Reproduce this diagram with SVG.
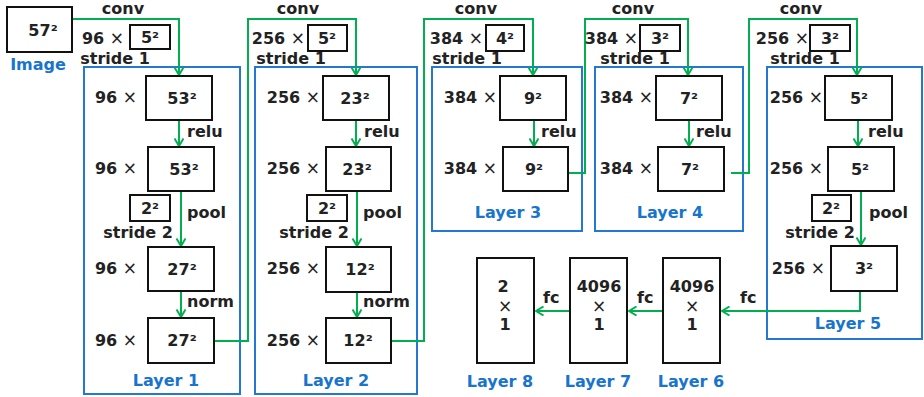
<svg xmlns="http://www.w3.org/2000/svg" width="924" height="397" viewBox="0 0 924 397">
<defs>
<marker id="ah" viewBox="0 0 10 10" refX="9" refY="5" markerWidth="10" markerHeight="10" markerUnits="userSpaceOnUse" orient="auto">
<path d="M1.5,0.5 L9,5 L1.5,9.5" fill="none" stroke="#00b050" stroke-width="2"/>
</marker>
</defs>
<style>
text{font-family:"DejaVu Sans",Verdana,sans-serif;font-weight:bold;font-size:16px;fill:#222}
.c{text-anchor:middle}
.e{text-anchor:end}
.x{font-weight:normal;font-size:17px}
.cv{font-size:15px}
.lb{fill:#1874cd;text-anchor:middle}
.bx{fill:#fff;stroke:#111;stroke-width:2}
.sb{fill:#fff;stroke:#111;stroke-width:2}
.ly{fill:none;stroke:#2478d4;stroke-width:2}
.cn path{fill:none;stroke:#00b050;stroke-width:2;marker-end:url(#ah)}
</style>
<rect width="924" height="397" fill="#fff"/>

<g id="layer-frames">
<rect class="ly" x="84" y="67" width="156" height="327"/>
<rect class="ly" x="255" y="67" width="162" height="327"/>
<rect class="ly" x="432" y="67" width="150" height="164"/>
<rect class="ly" x="595" y="67" width="148" height="164"/>
<rect class="ly" x="767" y="67" width="155" height="272"/>
</g>

<g id="connectors" class="cn">
<path d="M72,19 H179 V75"/>
<path d="M179,120 V146"/>
<path d="M181,191 V246"/>
<path d="M181,291 V317"/>
<path d="M214,341 H248 V19 H356 V75"/>
<path d="M356,120 V146"/>
<path d="M357,191 V246"/>
<path d="M357,292 V317"/>
<path d="M391,341 H424 V19 H533 V75"/>
<path d="M534,120 V146"/>
<path d="M568,173 H585 V19 H688 V75"/>
<path d="M689,120 V146"/>
<path d="M731,173 H749 V19 H857 V75"/>
<path d="M858,120 V146"/>
<path d="M861,191 V245"/>
<path d="M860,291 V311 H722"/>
<path d="M663,311 H629"/>
<path d="M570,311 H536"/>
</g>

<g id="image">
<rect class="bx" x="7" y="7" width="65" height="45"/>
<text class="c" x="43" y="36">57²</text>
<text class="lb" x="38" y="70">Image</text>
</g>

<g id="conv1">
<text class="c" x="123" y="14">conv</text>
<text class="e" x="124" y="44">96 <tspan class="x">×</tspan></text>
<rect class="sb" x="130" y="25" width="40" height="24"/>
<text class="c" x="150" y="43">5²</text>
<text class="c" x="115" y="64">stride 1</text>
</g>

<g id="layer1">
<text class="e" x="137" y="103">96 <tspan class="x">×</tspan></text>
<rect class="bx" x="146" y="76" width="66" height="44"/>
<text class="c" x="182" y="104">53²</text>
<text x="187" y="137">relu</text>
<text class="e" x="137" y="174">96 <tspan class="x">×</tspan></text>
<rect class="bx" x="148" y="147" width="66" height="44"/>
<text class="c" x="184" y="175">53²</text>
<rect class="sb" x="130" y="195" width="40" height="26"/>
<text class="c" x="150" y="214">2²</text>
<text x="187" y="218">pool</text>
<text class="c" x="138" y="238">stride 2</text>
<text class="e" x="137" y="274">96 <tspan class="x">×</tspan></text>
<rect class="bx" x="148" y="247" width="66" height="44"/>
<text class="c" x="182" y="275">27²</text>
<text x="187" y="307">norm</text>
<text class="e" x="137" y="346">96 <tspan class="x">×</tspan></text>
<rect class="bx" x="148" y="318" width="66" height="45"/>
<text class="c" x="182" y="346">27²</text>
<text class="lb" x="166" y="386">Layer 1</text>
</g>

<g id="conv2">
<text class="c" x="298" y="14">conv</text>
<text class="e" x="305" y="44">256 <tspan class="x">×</tspan></text>
<rect class="sb" x="308" y="25" width="39" height="26"/>
<text class="c" x="327" y="44">5²</text>
<text class="c" x="291" y="64">stride 1</text>
</g>

<g id="layer2">
<text class="e" x="320" y="103">256 <tspan class="x">×</tspan></text>
<rect class="bx" x="323" y="76" width="66" height="44"/>
<text class="c" x="355" y="104">23²</text>
<text x="364" y="137">relu</text>
<text class="e" x="320" y="174">256 <tspan class="x">×</tspan></text>
<rect class="bx" x="326" y="147" width="65" height="44"/>
<text class="c" x="357" y="175">23²</text>
<rect class="sb" x="307" y="195" width="40" height="26"/>
<text class="c" x="327" y="214">2²</text>
<text x="363" y="218">pool</text>
<text class="c" x="314" y="238">stride 2</text>
<text class="e" x="320" y="274">256 <tspan class="x">×</tspan></text>
<rect class="bx" x="326" y="247" width="65" height="45"/>
<text class="c" x="360" y="275">12²</text>
<text x="363" y="307">norm</text>
<text class="e" x="320" y="346">256 <tspan class="x">×</tspan></text>
<rect class="bx" x="326" y="318" width="65" height="45"/>
<text class="c" x="358" y="346">12²</text>
<text class="lb" x="336" y="386">Layer 2</text>
</g>

<g id="conv3">
<text class="c" x="476" y="14">conv</text>
<text class="e" x="483" y="44">384 <tspan class="x">×</tspan></text>
<rect class="sb" x="486" y="25" width="38" height="26"/>
<text class="c" x="505" y="44">4²</text>
<text class="c" x="467" y="64">stride 1</text>
</g>

<g id="layer3">
<text class="e" x="497" y="103">384 <tspan class="x">×</tspan></text>
<rect class="bx" x="500" y="76" width="66" height="44"/>
<text class="c" x="533" y="104">9²</text>
<text x="541" y="137">relu</text>
<text class="e" x="497" y="174">384 <tspan class="x">×</tspan></text>
<rect class="bx" x="503" y="147" width="65" height="44"/>
<text class="c" x="534" y="175">9²</text>
<text class="lb" x="508" y="218">Layer 3</text>
</g>

<g id="conv4">
<text class="c" x="633" y="14">conv</text>
<text class="e" x="638" y="44">384 <tspan class="x">×</tspan></text>
<rect class="sb" x="640" y="25" width="40" height="26"/>
<text class="c" x="660" y="44">3²</text>
<text class="c" x="635" y="64">stride 1</text>
</g>

<g id="layer4">
<text class="e" x="653" y="103">384 <tspan class="x">×</tspan></text>
<rect class="bx" x="656" y="76" width="66" height="44"/>
<text class="c" x="689" y="104">7²</text>
<text x="696" y="137">relu</text>
<text class="e" x="653" y="174">384 <tspan class="x">×</tspan></text>
<rect class="bx" x="658" y="147" width="66" height="44"/>
<text class="c" x="690" y="175">7²</text>
<text class="lb" x="670" y="218">Layer 4</text>
</g>

<g id="conv5">
<text class="c" x="801" y="14">conv</text>
<text class="e" x="809" y="44">256 <tspan class="x">×</tspan></text>
<rect class="sb" x="810" y="25" width="40" height="26"/>
<text class="c" x="830" y="44">3²</text>
<text class="c" x="805" y="64">stride 1</text>
</g>

<g id="layer5">
<text class="e" x="823" y="103">256 <tspan class="x">×</tspan></text>
<rect class="bx" x="825" y="76" width="67" height="44"/>
<text class="c" x="859" y="104">5²</text>
<text x="868" y="137">relu</text>
<text class="e" x="823" y="174">256 <tspan class="x">×</tspan></text>
<rect class="bx" x="828" y="147" width="66" height="44"/>
<text class="c" x="860" y="175">5²</text>
<rect class="sb" x="812" y="195" width="39" height="26"/>
<text class="c" x="831" y="214">2²</text>
<text x="869" y="218">pool</text>
<text class="c" x="820" y="238">stride 2</text>
<text class="e" x="825" y="274">256 <tspan class="x">×</tspan></text>
<rect class="bx" x="831" y="246" width="66" height="45"/>
<text class="c" x="864" y="274">3²</text>
<text class="lb" x="848" y="329">Layer 5</text>
</g>

<g id="layer6">
<rect class="bx" x="663" y="258" width="57" height="105"/>
<text class="c" x="692" y="292">4096</text>
<text class="c x" x="692" y="312">×</text>
<text class="c" x="692" y="330">1</text>
<text x="740" y="303">fc</text>
<text class="lb" x="691" y="387">Layer 6</text>
</g>

<g id="layer7">
<rect class="bx" x="570" y="258" width="57" height="105"/>
<text class="c" x="599" y="292">4096</text>
<text class="c x" x="599" y="312">×</text>
<text class="c" x="599" y="330">1</text>
<text x="637" y="303">fc</text>
<text class="lb" x="598" y="387">Layer 7</text>
</g>

<g id="layer8">
<rect class="bx" x="477" y="258" width="57" height="105"/>
<text class="c" x="503" y="292">2</text>
<text class="c x" x="505" y="312">×</text>
<text class="c" x="505" y="330">1</text>
<text x="543" y="303">fc</text>
<text class="lb" x="500" y="387">Layer 8</text>
</g>
</svg>
